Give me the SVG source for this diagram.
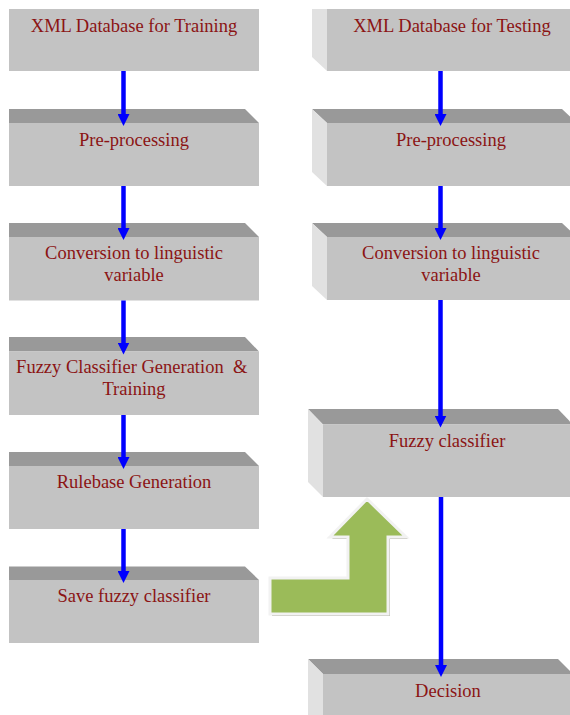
<svg xmlns="http://www.w3.org/2000/svg" width="570" height="715" viewBox="0 0 570 715">
<defs>
<style>
.front{fill:#c3c3c3}
.top{fill:#999999}
.side{fill:#e1e1e1}
.edge{fill:none;stroke:#d8d8d8;stroke-width:1}
.lbl{font-family:"Liberation Serif","Times New Roman",serif;font-size:18.5px;fill:#8b1414;text-anchor:middle;white-space:pre}
.conn{stroke:#0000ff;stroke-width:4.5;fill:none;marker-end:url(#ah)}
</style>
<marker id="ah" viewBox="0 0 12 12" refX="1" refY="6" markerWidth="12" markerHeight="12" markerUnits="userSpaceOnUse" orient="auto">
<path d="M0,0 L12,6 L0,12 Z" fill="#0000ff"/>
</marker>
</defs>
<rect width="570" height="715" fill="#ffffff"/>

<!-- Left column -->
<g id="train-xml">
<rect class="front" x="9" y="9" width="250" height="62"/>
<text class="lbl" x="134" y="31.5">XML Database for Training</text>
</g>
<g id="train-pre">
<polygon class="top" points="9,109 245,109 259,123 9,123"/>
<rect class="front" x="9" y="123" width="250" height="63"/>
<text class="lbl" x="134" y="145.5">Pre-processing</text>
</g>
<g id="train-conv">
<polygon class="top" points="9,223 245,223 259,237 9,237"/>
<rect class="front" x="9" y="237" width="250" height="63.5"/>
<text class="lbl" x="134" y="259.3">Conversion to linguistic</text>
<text class="lbl" x="134" y="280.5">variable</text>
</g>
<g id="train-gen">
<polygon class="top" points="9,337 245,337 259,351.5 9,351.5"/>
<rect class="front" x="9" y="351.5" width="250" height="63.5"/>
<text class="lbl" x="134" y="372.7">Fuzzy Classifier Generation  &amp; </text>
<text class="lbl" x="134" y="394.5">Training</text>
</g>
<g id="train-rule">
<polygon class="top" points="9,452 245,452 259,466 9,466"/>
<rect class="front" x="9" y="466" width="250" height="63"/>
<text class="lbl" x="134" y="487.5">Rulebase Generation</text>
</g>
<g id="train-save">
<polygon class="top" points="9,566.5 245,566.5 259,580 9,580"/>
<rect class="front" x="9" y="580" width="250" height="63"/>
<text class="lbl" x="134" y="602">Save fuzzy classifier</text>
</g>

<!-- Right column -->
<g id="test-xml">
<polygon class="side" points="312,9 327,9 327,71 312,57"/>
<rect class="front" x="327" y="9" width="250" height="62"/>
<text class="lbl" x="452" y="31.5">XML Database for Testing</text>
</g>
<g id="test-pre">
<polygon class="top" points="312,109 562,109 577,123 327,123"/>
<polygon class="side" points="312,109 327,123 327,186 312,172"/>
<rect class="front" x="327" y="123" width="250" height="63"/>
<text class="lbl" x="451" y="145.5">Pre-processing</text>
</g>
<g id="test-conv">
<polygon class="top" points="312,223 562,223 577,237 327,237"/>
<polygon class="side" points="312,223 327,237 327,300 312,286"/>
<rect class="front" x="327" y="237" width="250" height="63"/>
<text class="lbl" x="451" y="259.3">Conversion to linguistic</text>
<text class="lbl" x="451" y="280.5">variable</text>
</g>
<g id="test-fuzzy">
<polygon class="top" points="308,409 558,409 573,424.5 323,424.5"/>
<polygon class="side" points="308,409 323,424.5 323,497 308,482"/>
<rect class="front" x="323" y="424.5" width="250" height="72.5"/>
<text class="lbl" x="447" y="446.7">Fuzzy classifier</text>
</g>
<g id="test-decision">
<polygon class="top" points="308,659 558,659 573,674 323,674"/>
<polygon class="side" points="308,659 323,674 323,715 308,715"/>
<rect class="front" x="323" y="674" width="250" height="41"/>
<text class="lbl" x="448" y="696.7">Decision</text>
</g>

<!-- Green bent-up arrow -->
<g id="transfer-arrow">
<polygon points="272,580 350,580 350,539 332,539 369,501 408,539 390,539 390,616 272,616" fill="#9a9a8a" opacity="0.7"/>
<polygon points="270,578 348,578 348,537 330,537 367,499 406,537 388,537 388,614 270,614" fill="#9bbb59" stroke="#f2f2f2" stroke-width="3" stroke-linejoin="miter"/>
</g>

<!-- Connectors -->
<g id="connectors">
<line class="conn" x1="123.5" y1="71" x2="123.5" y2="115"/>
<line class="conn" x1="123.5" y1="186" x2="123.5" y2="229"/>
<line class="conn" x1="123.5" y1="300.5" x2="123.5" y2="343.5"/>
<line class="conn" x1="123.5" y1="415" x2="123.5" y2="458"/>
<line class="conn" x1="123.5" y1="529" x2="123.5" y2="572"/>
<line class="conn" x1="440.5" y1="71" x2="440.5" y2="115"/>
<line class="conn" x1="440.5" y1="186" x2="440.5" y2="229"/>
<line class="conn" x1="440.5" y1="300" x2="440.5" y2="416.5"/>
<line class="conn" x1="441" y1="497" x2="441" y2="666"/>
</g>
</svg>
